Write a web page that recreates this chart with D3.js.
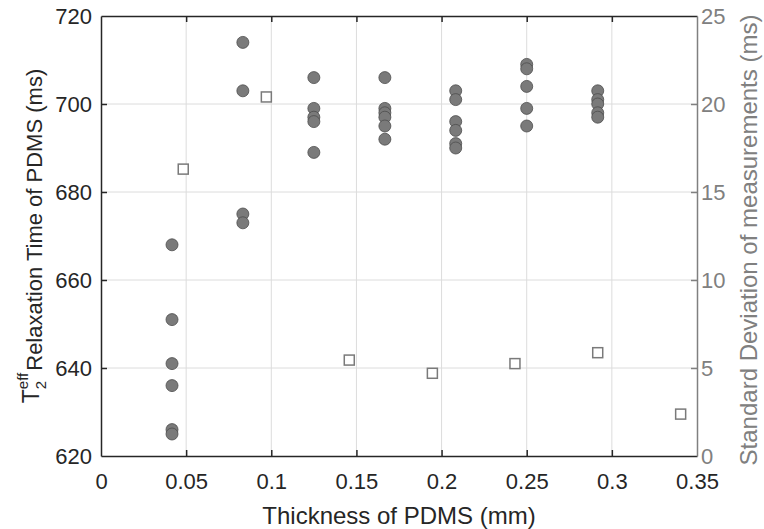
<!DOCTYPE html>
<html>
<head>
	<meta charset="UTF-8">
	<title>T2eff vs PDMS thickness</title>
	<script src="https://cdn.jsdelivr.net/npm/d3@7"></script>
	<style>
		body { margin: 0; background: #fff; }
		text { font-family: "Liberation Sans", Arial, sans-serif; }
	</style>
</head>
<body>
	<script>
		// data
		var thickness = [0.0417, 0.0833, 0.125, 0.1667, 0.2083, 0.25, 0.2917];
		var t2Values = [
			[668, 651, 641, 636, 626, 625],
			[714, 703, 675, 673],
			[706, 699, 697, 696, 689],
			[706, 699, 698, 697, 695, 692],
			[703, 701, 696, 694, 691, 690],
			[709, 708, 704, 699, 695],
			[703, 701, 700, 698, 697]
		];
		var sdThickness = [0.0483, 0.0971, 0.1458, 0.1946, 0.2431, 0.2917, 0.3404];
		var sdValues = [16.3, 20.4, 5.45, 4.7, 5.25, 5.87, 2.38];

		var xTicks = [0, 0.05, 0.1, 0.15, 0.2, 0.25, 0.3, 0.35];
		var yTicks = [620, 640, 660, 680, 700, 720];
		var y2Ticks = [0, 5, 10, 15, 20, 25];

		// layout
		var W = 764, H = 529;
		var margin = {top: 16, right: 67, bottom: 73, left: 101},
			width = W - margin.left - margin.right,
			height = H - margin.top - margin.bottom;

		var x = d3.scaleLinear().domain([0, 0.35]).range([0, width]);
		var y = d3.scaleLinear().domain([620, 720]).range([height, 0]);
		var y2 = d3.scaleLinear().domain([0, 25]).range([height, 0]);

		var svg = d3.select('body').append('svg')
			.attr('width', W)
			.attr('height', H);
		var g = svg.append('g')
			.attr('transform', 'translate(' + margin.left + ',' + margin.top + ')');

		var fmt = function(d) { return d === 0 ? '0' : String(+d.toFixed(2)); };
		var dark = '#262626', grey = '#808080', fs = 22, lfs = 24;

		// grid
		g.append('g').selectAll('line').data(xTicks.slice(1, -1)).enter().append('line')
			.attr('x1', d => x(d)).attr('x2', d => x(d))
			.attr('y1', 0).attr('y2', height)
			.attr('stroke', '#dcdcdc').attr('stroke-width', 1);
		g.append('g').selectAll('line').data(yTicks.slice(1, -1)).enter().append('line')
			.attr('y1', d => y(d)).attr('y2', d => y(d))
			.attr('x1', 0).attr('x2', width)
			.attr('stroke', '#dcdcdc').attr('stroke-width', 1);

		// bottom axis, ticks pointing inward
		var xAxis = g.append('g')
			.attr('transform', 'translate(0,' + height + ')')
			.call(d3.axisBottom(x).tickValues(xTicks).tickFormat(fmt).tickSizeInner(-6).tickSizeOuter(0).tickPadding(17));
		// top border with ticks
		var xTop = g.append('g')
			.call(d3.axisTop(x).tickValues(xTicks).tickFormat('').tickSizeInner(-6).tickSizeOuter(0));
		// left axis
		var yAxis = g.append('g')
			.call(d3.axisLeft(y).tickValues(yTicks).tickSizeInner(-6).tickSizeOuter(0).tickPadding(9));
		// right axis (grey)
		var y2Axis = g.append('g')
			.attr('transform', 'translate(' + width + ',0)')
			.call(d3.axisRight(y2).tickValues(y2Ticks).tickSizeInner(-6).tickSizeOuter(0).tickPadding(4));

		[xAxis, xTop, yAxis].forEach(function(a) {
			a.select('.domain').attr('stroke', dark).attr('stroke-width', 1.5);
			a.selectAll('.tick line').attr('stroke', dark).attr('stroke-width', 1.5);
			a.selectAll('.tick text').attr('fill', dark).attr('font-size', fs).attr('font-family', null);
		});
		y2Axis.select('.domain').attr('stroke', grey).attr('stroke-width', 1.5);
		y2Axis.selectAll('.tick line').attr('stroke', grey).attr('stroke-width', 1.5);
		y2Axis.selectAll('.tick text').attr('fill', grey).attr('font-size', fs).attr('font-family', null);
		// no end ticks on the frame corners
		[xAxis, xTop].forEach(function(a) {
			a.selectAll('.tick line').filter(d => d === 0 || d === 0.35).remove();
		});
		yAxis.selectAll('.tick line').filter(d => d === 620 || d === 720).remove();
		y2Axis.selectAll('.tick line').filter(d => d === 0 || d === 25).remove();

		// T2 points
		var pts = [];
		thickness.forEach(function(t, i) {
			t2Values[i].forEach(function(v) { pts.push({t: t, v: v}); });
		});
		g.append('g').selectAll('circle').data(pts).enter().append('circle')
			.attr('cx', d => x(d.t))
			.attr('cy', d => y(d.v))
			.attr('r', 6)
			.attr('fill', '#7a7a7a')
			.attr('stroke', '#4d4d4d')
			.attr('stroke-width', 0.8);

		// standard deviation squares
		var sq = 10;
		g.append('g').selectAll('rect').data(sdThickness).enter().append('rect')
			.attr('x', d => x(d) - sq / 2)
			.attr('y', (d, i) => y2(sdValues[i]) - sq / 2)
			.attr('width', sq).attr('height', sq)
			.attr('fill', '#fff')
			.attr('stroke', '#7a7a7a')
			.attr('stroke-width', 1.5);

		// x label
		svg.append('text')
			.attr('x', margin.left + width / 2)
			.attr('y', 524)
			.attr('text-anchor', 'middle')
			.attr('font-size', lfs)
			.attr('fill', dark)
			.text('Thickness of PDMS (mm)');

		// left label: T_2^eff Relaxation Time of PDMS (ms)
		var lab = svg.append('g')
			.attr('transform', 'translate(42,' + (margin.top + height / 2) + ') rotate(-90)');
		var tT = lab.append('text').attr('font-size', 23).attr('fill', dark).attr('dy', -3).text('T');
		var tEff = lab.append('text').attr('font-size', 15).attr('fill', dark).attr('dy', -14).text('eff');
		var t2 = lab.append('text').attr('font-size', 15).attr('fill', dark).attr('dy', 4).text('2');
		var tMain = lab.append('text').attr('font-size', 22).attr('fill', dark).text('Relaxation Time of PDMS (ms)');
		var wT = tT.node().getComputedTextLength(),
			wS = Math.max(tEff.node().getComputedTextLength(), t2.node().getComputedTextLength()),
			wM = tMain.node().getComputedTextLength();
		var total = wT + wS + 2 + wM, x0 = -total / 2;
		tT.attr('x', x0);
		tEff.attr('x', x0 + wT);
		t2.attr('x', x0 + wT);
		tMain.attr('x', x0 + wT + wS + 2);

		// right label
		svg.append('text')
			.attr('transform', 'translate(757,240) rotate(-90)')
			.attr('text-anchor', 'middle')
			.attr('font-size', lfs)
			.attr('fill', grey)
			.text('Standard Deviation of measurements (ms)');
	</script>
</body>
</html>
